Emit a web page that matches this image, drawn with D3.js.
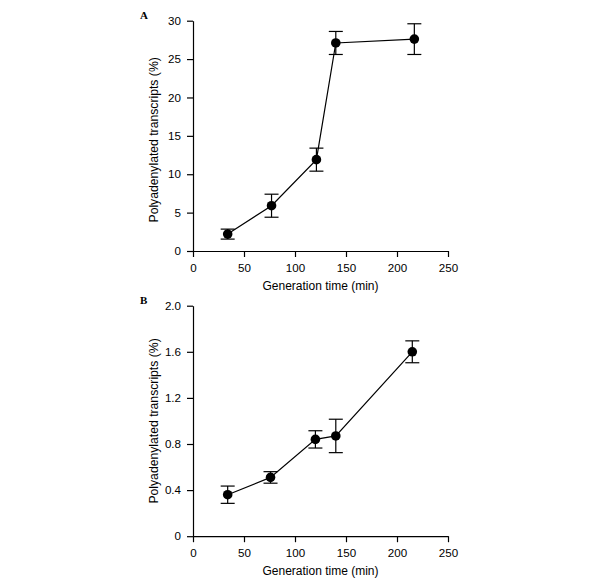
<!DOCTYPE html>
<html>
<head>
<meta charset="utf-8">
<script src="https://cdn.jsdelivr.net/npm/d3@7"></script>
<style>
  body { margin: 0; background: #fff; }
  svg { display: block; }
</style>
</head>
<body>
<svg id="chart" width="600" height="584"></svg>
<script>
// Panel A data (generation time, min / % polyadenylated)
const timesA = [34, 77, 121, 140, 217];
const valuesA = [2.2, 5.9, 11.9, 27.1, 27.6];
const errorsA = [0.65, 1.5, 1.5, 1.5, 2.0];
const yTicksA = [0, 5, 10, 15, 20, 25, 30];

// Panel B data
const timesB = [34, 76, 120, 140, 215];
const valuesB = [0.36, 0.51, 0.84, 0.87, 1.6];
const errorsB = [0.075, 0.05, 0.075, 0.145, 0.095];
const yTicksB = [0, 0.4, 0.8, 1.2, 1.6, 2.0];

const xTicks = [0, 50, 100, 150, 200, 250];
const xLabel = "Generation time (min)";
const yLabel = "Polyadenylated transcripts (%)";

const svg = d3.select("#chart");
const font = "'Liberation Sans', Arial, Helvetica, sans-serif";

function panel(opts) {
  const { letter, times, values, errors, yTicks, yMax, yFmt, top, bottom, yLabelShift } = opts;
  const left = 193, right = 448;
  const x = d3.scaleLinear().domain([0, 250]).range([left, right]);
  const y = d3.scaleLinear().domain([0, yMax]).range([bottom, top]);
  const g = svg.append("g");

  const xAxis = g.append("g")
    .attr("transform", `translate(0,${bottom})`)
    .call(d3.axisBottom(x).tickValues(xTicks).tickSize(6).tickPadding(7).tickSizeOuter(0));
  const yAxis = g.append("g")
    .attr("transform", `translate(${left},0)`)
    .call(d3.axisLeft(y).tickValues(yTicks).tickFormat(yFmt).tickSize(6).tickPadding(6).tickSizeOuter(0));
  [xAxis, yAxis].forEach(a => {
    a.selectAll("path.domain").attr("stroke", "#000").attr("stroke-width", 1.2);
    a.selectAll(".tick line").attr("stroke", "#000").attr("stroke-width", 1.2);
    a.selectAll(".tick text").attr("fill", "#000").style("font-family", font).style("font-size", "11.6px");
  });

  // axis titles
  g.append("text")
    .attr("x", (left + right) / 2).attr("y", bottom + 38.5)
    .attr("text-anchor", "middle")
    .style("font-family", font).style("font-size", "12px")
    .text(xLabel);
  g.append("text")
    .attr("transform", `translate(158,${(top + bottom) / 2 + yLabelShift}) rotate(-90)`)
    .attr("text-anchor", "middle")
    .style("font-family", font).style("font-size", "12.2px")
    .text(yLabel);

  // panel letter
  g.append("text")
    .attr("x", 140).attr("y", top - 1.5)
    .style("font-family", "'Liberation Serif', 'Times New Roman', serif")
    .style("font-weight", "bold").style("font-size", "11px")
    .text(letter);

  const pts = times.map((t, i) => ({ t, v: values[i], e: errors[i] }));

  // connecting line
  g.append("path")
    .datum(pts)
    .attr("fill", "none").attr("stroke", "#000").attr("stroke-width", 1.2)
    .attr("d", d3.line().x(d => x(d.t)).y(d => y(d.v)));

  // error bars
  const eb = g.append("g").attr("stroke", "#000").attr("stroke-width", 1.2);
  eb.selectAll("line.v").data(pts).join("line")
    .attr("x1", d => x(d.t)).attr("x2", d => x(d.t))
    .attr("y1", d => y(d.v - d.e)).attr("y2", d => y(d.v + d.e));
  eb.selectAll("line.top").data(pts).join("line")
    .attr("x1", d => x(d.t) - 7).attr("x2", d => x(d.t) + 7)
    .attr("y1", d => y(d.v + d.e)).attr("y2", d => y(d.v + d.e));
  eb.selectAll("line.bot").data(pts).join("line")
    .attr("x1", d => x(d.t) - 7).attr("x2", d => x(d.t) + 7)
    .attr("y1", d => y(d.v - d.e)).attr("y2", d => y(d.v - d.e));

  // markers
  g.selectAll("circle").data(pts).join("circle")
    .attr("cx", d => x(d.t)).attr("cy", d => y(d.v)).attr("r", 4.8)
    .attr("fill", "#000");
}

panel({ letter: "A", times: timesA, values: valuesA, errors: errorsA, yTicks: yTicksA,
        yMax: 30, yFmt: d3.format("d"), top: 20.7, bottom: 251, yLabelShift: 4 });
panel({ letter: "B", times: timesB, values: valuesB, errors: errorsB, yTicks: yTicksB,
        yMax: 2.0, yFmt: d => d === 0 ? "0" : d3.format(".1f")(d), top: 305.7, bottom: 536.2, yLabelShift: 0 });
</script>
</body>
</html>
